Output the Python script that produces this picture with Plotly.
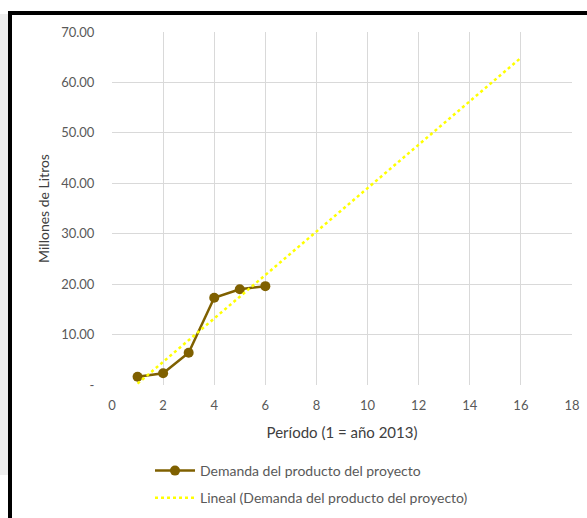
import numpy as np
import plotly.graph_objects as go

# Demand for the project's product (millions of litres) per period
periodos = [1, 2, 3, 4, 5, 6]
demanda = [1.64, 2.32, 6.40, 17.30, 19.00, 19.60]

# Linear trend projected up to period 16
tendencia_x = [1, 16]

y_ticks = [0, 10, 20, 30, 40, 50, 60, 70]
y_tick_text = ["-", "10.00", "20.00", "30.00", "40.00", "50.00", "60.00", "70.00"]
x_ticks = [0, 2, 4, 6, 8, 10, 12, 14, 16, 18]

pendiente, intercepto = np.polyfit(periodos, demanda, 1)
tendencia_y = [pendiente * t + intercepto for t in tendencia_x]

FONT = "Lato, 'Open Sans', sans-serif"
GRAY = "#595959"
GRID = "#d9d9d9"
CLEAR = "rgba(0,0,0,0)"

fig = go.Figure()
fig.add_trace(go.Scatter(
    x=periodos, y=demanda, mode="lines+markers",
    name="Demanda del producto del proyecto",
    line=dict(color="#7f6000", width=2.5),
    marker=dict(color="#7f6000", size=10),
    legendgroup="a",
))
fig.add_trace(go.Scatter(
    x=tendencia_x, y=tendencia_y, mode="lines",
    name="Lineal (Demanda del producto del proyecto)",
    line=dict(color="#ffff00", width=2.5, dash="dot"),
    legendgroup="b",
))

fig.update_layout(
    width=587, height=518,
    margin=dict(l=112, r=15, t=32, b=133, autoexpand=False),
    paper_bgcolor="white", plot_bgcolor="white",
    font=dict(family=FONT, color=GRAY, size=13),
    showlegend=True,
    legend=dict(
        x=(150 - 112) / 460, y=(385 - 455) / 353,
        xanchor="left", yanchor="top",
        traceorder="grouped", tracegroupgap=6,
        font=dict(family=FONT, size=14, color=GRAY),
        itemwidth=40, bgcolor=CLEAR,
    ),
    xaxis=dict(
        range=[0, 18], tickvals=x_ticks, showgrid=True, gridcolor=GRID,
        gridwidth=1, zeroline=False, showline=False,
        ticks="outside", ticklen=8, tickcolor=CLEAR,
        tickfont=dict(size=13, color=GRAY),
        title=dict(text="Período (1 = año 2013)",
                   font=dict(size=15, color="#404040")),
    ),
    yaxis=dict(
        range=[0, 70], tickvals=y_ticks, ticktext=y_tick_text,
        showgrid=True, gridcolor=GRID, gridwidth=1, zeroline=False,
        showline=False, ticks="outside", ticklen=14, tickcolor=CLEAR,
        tickfont=dict(size=13, color=GRAY), automargin=True,
        title=dict(text="Millones de Litros", standoff=8,
                   font=dict(size=14, color="#404040")),
    ),
    shapes=[
        # light strip at the far left
        dict(type="rect", xref="paper", yref="paper",
             x0=(0 - 112) / 460, x1=(8 - 112) / 460,
             y0=(385 - 475) / 353, y1=(385 - 14) / 353,
             fillcolor="#eeeeee", line=dict(width=0), layer="below"),
        # black frame on top and left
        dict(type="line", xref="paper", yref="paper",
             x0=(10 - 112) / 460, x1=(600 - 112) / 460,
             y0=(385 - 13) / 353, y1=(385 - 13) / 353,
             line=dict(color="black", width=4)),
        dict(type="line", xref="paper", yref="paper",
             x0=(10 - 112) / 460, x1=(10 - 112) / 460,
             y0=(385 - 11) / 353, y1=(385 - 530) / 353,
             line=dict(color="black", width=4)),
    ],
)

fig.write_html("out.html")
